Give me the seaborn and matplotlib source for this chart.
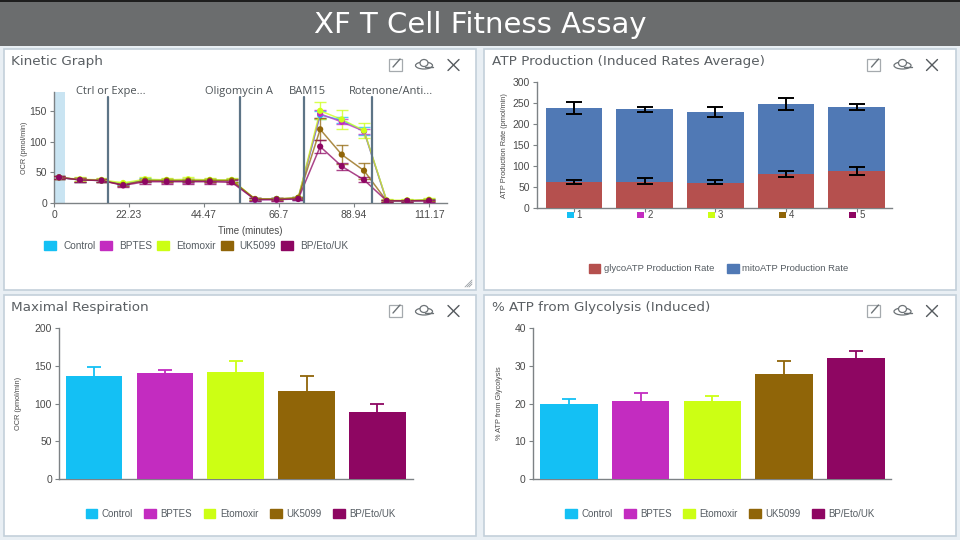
import numpy as np
import pandas as pd
import matplotlib
matplotlib.use("Agg")
import matplotlib.pyplot as plt
from matplotlib.patches import Rectangle, Patch, Ellipse
import seaborn as sns

sns.set_theme(style="white")
plt.rcParams["font.family"] = ["Liberation Sans", "DejaVu Sans"]

W, H = 960, 540
groups = ["Control", "BPTES", "Etomoxir", "UK5099", "BP/Eto/UK"]
colors = ["#14c0f4", "#c32cc0", "#ccff14", "#906508", "#8e0662"]
numbers = ["1", "2", "3", "4", "5"]

times = [1.5, 7.7, 14.1, 20.5, 27, 33.4, 39.8, 46.2, 52.7, 59.6, 66, 72.4, 78.9, 85.3, 91.9, 98.6, 104.7, 111.17]
ocr_control = [42, 38, 37, 31, 38, 37, 37, 37, 37, 6, 7, 8, 143, 135, 117, 4, 4, 5]
ocr_bptes = [42, 38, 37, 30, 37, 36, 36, 36, 36, 6, 6, 8, 145, 132, 117, 4, 4, 4]
ocr_etomoxir = [42, 39, 38, 33, 39, 38, 39, 38, 38, 7, 7, 9, 150, 136, 118, 5, 5, 6]
ocr_uk5099 = [42, 38, 37, 30, 37, 37, 37, 37, 37, 7, 7, 9, 120, 79, 53, 4, 4, 5]
ocr_combo = [42, 38, 37, 29, 35, 35, 35, 35, 34, 6, 6, 7, 92, 60, 38, 4, 4, 4]
err_control = [3, 3, 3, 2, 3, 3, 3, 3, 3, 3, 2, 2, 6, 5, 6, 2, 2, 2]
err_bptes = [3, 3, 3, 2, 3, 3, 3, 3, 3, 2, 2, 2, 6, 4, 4, 2, 2, 2]
err_etomoxir = [3, 3, 3, 2, 3, 3, 3, 3, 3, 2, 2, 2, 14, 15, 12, 2, 2, 2]
err_uk5099 = [3, 3, 3, 2, 3, 3, 3, 3, 3, 2, 2, 2, 18, 15, 13, 2, 2, 2]
err_combo = [3, 3, 3, 2, 3, 3, 3, 3, 3, 2, 2, 2, 10, 6, 4, 2, 2, 2]
injection_times = [15.9, 55.1, 74.0, 94.2]
injection_labels = ["Ctrl or Expe...", "Oligomycin A", "BAM15", "Rotenone/Anti..."]
kinetic_ticks = [0, 22.23, 44.47, 66.7, 88.94, 111.17]
kinetic_ticklabels = ["0", "22.23", "44.47", "66.7", "88.94", "111.17"]

glyco_rate = [62, 63, 61, 81, 88]
glyco_low = [58, 57, 58, 74, 79]
glyco_high = [68, 71, 67, 89, 99]
total_rate = [239, 236.5, 230, 248, 241]
total_low = [225, 230, 217.5, 233, 233]
total_high = [254, 242, 242, 262, 249]

max_resp = [137, 141, 142, 116, 89]
max_resp_high = [149, 145, 157, 136, 99]
pct_glyco = [20, 20.7, 20.6, 27.8, 32.1]
pct_glyco_high = [21.3, 22.8, 22, 31.2, 33.9]

fig = plt.figure(figsize=(W / 100, H / 100), dpi=100, facecolor="#e9eff4")

bg = fig.add_axes([0, 0, 1, 1], zorder=0)
bg.set_xlim(0, W)
bg.set_ylim(H, 0)
bg.axis("off")
bg.add_patch(Rectangle((0, 0), W, 46, fc="#6b6d6e", ec="none"))
bg.add_patch(Rectangle((0, 0), W, 2, fc="#1e1e1e", ec="none"))
bg.text(480, 25, "XF T Cell Fitness Assay", color="white", fontsize=21,
        family="DejaVu Sans", ha="center", va="center")

panels = [(4, 49, 472, 241, "Kinetic Graph"),
          (484, 49, 472, 241, "ATP Production (Induced Rates Average)"),
          (4, 295, 472, 241, "Maximal Respiration"),
          (484, 295, 472, 241, "% ATP from Glycolysis (Induced)")]
for x, y, w, h, title in panels:
    bg.add_patch(Rectangle((x, y), w, h, fc="white", ec="#c3d0da", lw=1.2))
    bg.text(x + (7 if x < 100 else 8), y + 12, title, fontsize=9.7, family="DejaVu Sans",
            color="#5a5f63", ha="left", va="center")
    iy = y + 16
    ix = x + (391 if x < 100 else 389.5)
    bg.add_patch(Rectangle((ix - 6.5, iy - 6), 13, 12, fc="none", ec="#a5aaae", lw=0.9))
    bg.plot([ix - 2, ix + 5], [iy + 2, iy - 6], color="#6d7377", lw=1)
    bg.add_patch(Ellipse((ix + 29, iy + 0.5), 17, 7, fc="none", ec="#6d7377", lw=0.9))
    bg.add_patch(Ellipse((ix + 29, iy - 2), 8, 7, fc="white", ec="#6d7377", lw=0.9))
    bg.plot([ix + 30, ix + 38], [iy + 2, iy + 2], color="#6d7377", lw=1)
    bg.plot([ix + 53, ix + 64], [iy - 5.5, iy + 5.5], color="#555a5e", lw=1)
    bg.plot([ix + 53, ix + 64], [iy + 5.5, iy - 5.5], color="#555a5e", lw=1)
for k in range(3):
    bg.plot([465 + 2 * k, 472], [287, 280 + 2 * k], color="#9aa0a4", lw=0.6)


def axes_px(x0, x1, ytop, ybot):
    ax = fig.add_axes([x0 / W, 1 - ybot / H, (x1 - x0) / W, (ybot - ytop) / H], zorder=2)
    ax.patch.set_alpha(0)
    sns.despine(ax=ax)
    for s in ("left", "bottom"):
        ax.spines[s].set_color("#7d8285")
        ax.spines[s].set_linewidth(1)
    ax.tick_params(axis="both", labelsize=7.5, colors="#4a4a4a", length=3, width=0.8,
                   color="#7d8285", pad=2, left=True, bottom=True)
    return ax


def legend_px(handles, labels, x, y, spacing=0.5, pad=0.7, size=7.2):
    fig.legend(handles, labels, loc="center left", bbox_to_anchor=(x / W, 1 - y / H),
               ncol=len(handles), frameon=False, fontsize=size, handlelength=1.2,
               handleheight=1.1, handletextpad=pad, columnspacing=spacing,
               borderpad=0, borderaxespad=0, labelcolor="#555c62")


# Kinetic graph
ax = axes_px(54, 447, 91.7, 203.3)
series = [ocr_control, ocr_bptes, ocr_etomoxir, ocr_uk5099, ocr_combo]
errors = [err_control, err_bptes, err_etomoxir, err_uk5099, err_combo]
long_df = pd.DataFrame({
    "time": times * 5,
    "ocr": sum(series, []),
    "err": sum(errors, []),
    "group": [g for g in groups for _ in times],
})
ax.axvspan(0, 3.3, color="#c9e4f2", lw=0, zorder=0)
for t in injection_times:
    ax.plot([t, t], [0, 0.955], transform=ax.get_xaxis_transform(), color="#5d7486", lw=1.6, zorder=5)
for t, label, x_offset in zip(injection_times, injection_labels, (-9.5, -10.2, -4.3, -6.8)):
    ax.text(t + x_offset, 1.0, label, transform=ax.get_xaxis_transform(), fontsize=8,
            color="#4c5256", ha="left", va="center", family="Open Sans")
for g, c, y_vals, e_vals in zip(groups, colors, series, errors):
    ax.errorbar(times, y_vals, yerr=e_vals, fmt="none", ecolor=c, elinewidth=1, capsize=4,
                capthick=1, alpha=0.75, zorder=3)
sns.lineplot(data=long_df, x="time", y="ocr", hue="group", hue_order=groups, palette=colors,
             ax=ax, lw=1.1, alpha=0.75, legend=False, errorbar=None, zorder=3)
sns.scatterplot(data=long_df, x="time", y="ocr", hue="group", hue_order=groups, palette=colors,
                s=20, linewidth=0, ax=ax, legend=False, zorder=4)
ax.set_xlim(0, 116.5)
ax.set_ylim(0, 181)
ax.set_xticks(kinetic_ticks, kinetic_ticklabels)
ax.set_yticks([0, 50, 100, 150])
ax.set_xlabel("Time (minutes)", fontsize=7, color="#4a4a4a", labelpad=4)
ax.set_ylabel("OCR (pmol/min)", fontsize=5.2, color="#4a4a4a", labelpad=1.5)
legend_px([Patch(color=c) for c in colors], groups, 44, 246)

# ATP production
ax = axes_px(536.7, 891.7, 82.3, 208.3)
atp_df = pd.DataFrame({"well": numbers, "glyco": glyco_rate, "total": total_rate})
sns.barplot(data=atp_df, x="well", y="total", color="#5079b5", saturation=1, width=0.8,
            linewidth=0, ax=ax, zorder=2)
sns.barplot(data=atp_df, x="well", y="glyco", color="#b5504e", saturation=1, width=0.8,
            linewidth=0, ax=ax, zorder=3)
xs = np.arange(5)
for mid, lo, hi in ((glyco_rate, glyco_low, glyco_high), (total_rate, total_low, total_high)):
    ax.errorbar(xs, mid, yerr=[np.subtract(mid, lo), np.subtract(hi, mid)], fmt="none", ecolor="black",
                elinewidth=1.4, capsize=5.6, capthick=1.4, zorder=5)
ax.set_xlim(-0.528, 4.495)
ax.set_ylim(0, 300)
ax.set_yticks(range(0, 301, 50))
ax.set_xticks(xs, ["    " + n for n in numbers])
ax.tick_params(axis="x", labelsize=7, pad=-1.5)
ax.set_xlabel("")
ax.set_ylabel("ATP Production Rate (pmol/min)", fontsize=5.3, color="#4a4a4a", labelpad=3)
for i, c in enumerate(colors):
    bg.add_patch(Rectangle((566.5 + i * 70.67, 212), 7, 6, fc=c, ec="none", zorder=3))
legend_px([Patch(color="#b5504e"), Patch(color="#5079b5")],
          ["glycoATP Production Rate", "mitoATP Production Rate"], 589, 268.5,
          spacing=1.35, pad=0.4, size=6.8)


def single_bars(x0, x1, xlim, values, highs, ymax, ystep, ylabel, legend_x, labelpad):
    ax = axes_px(x0, x1, 328.3, 478.7)
    df = pd.DataFrame({"group": groups, "value": values})
    sns.barplot(data=df, x="group", y="value", hue="group", hue_order=groups, palette=colors,
                saturation=1, width=0.8, dodge=False, legend=False, linewidth=0, ax=ax, zorder=3)
    for i, (v, h, c) in enumerate(zip(values, highs, colors)):
        ax.vlines(i, v, h, color=c, lw=1.3, zorder=4)
        ax.plot([i], [h], marker="_", ms=10, mew=1.3, color=c, zorder=4)
    ax.set_xlim(*xlim)
    ax.set_ylim(0, ymax)
    ax.set_yticks(range(0, ymax + 1, ystep))
    ax.set_xticks([])
    ax.set_xlabel("")
    ax.set_ylabel(ylabel, fontsize=5.3, color="#4a4a4a", labelpad=labelpad)
    legend_px([Patch(color=c) for c in colors], groups, legend_x, 514, spacing=1.2, pad=0.45, size=7)


single_bars(59, 412.7, (-0.497, 4.5), max_resp, max_resp_high, 200, 50, "OCR (pmol/min)", 85.5, 9)
single_bars(532.7, 891, (-0.507, 4.49), pct_glyco, pct_glyco_high, 40, 10, "% ATP from Glycolysis", 565, 8)

fig.savefig("out.png", dpi=100)
